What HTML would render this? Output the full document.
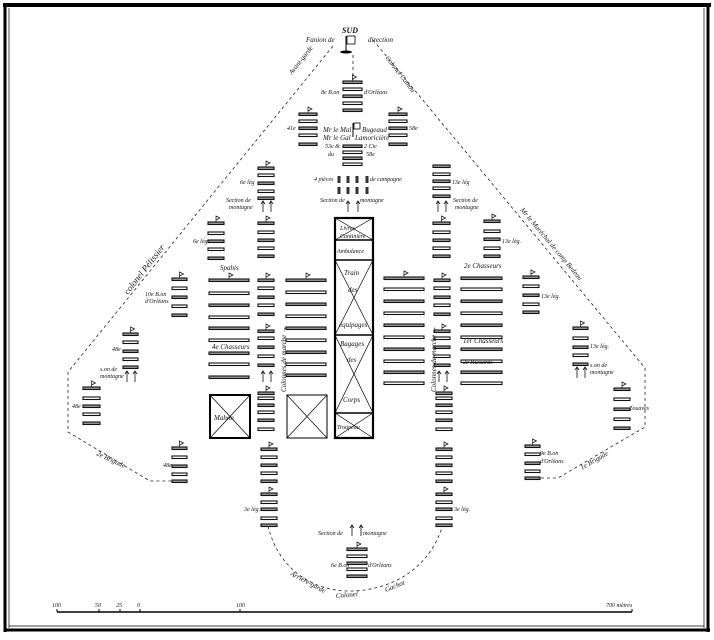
<!DOCTYPE html>
<html><head><meta charset="utf-8"><style>
html,body{margin:0;padding:0;background:#fff;width:714px;height:640px;overflow:hidden}
svg{display:block}
text{font-family:"Liberation Serif",serif;font-style:italic;fill:#111}
</style></head><body>
<svg id="s" width="714" height="640" viewBox="0 0 714 640" xmlns="http://www.w3.org/2000/svg">
<rect x="0" y="0" width="714" height="640" fill="#fff"/>
<line x1="3" y1="5" x2="711" y2="5" stroke="#000" stroke-width="4"/>
<line x1="5" y1="4" x2="5" y2="632" stroke="#000" stroke-width="3"/>
<line x1="9" y1="8" x2="9" y2="628" stroke="#000" stroke-width="0.7"/>
<line x1="708" y1="4" x2="708" y2="632" stroke="#000" stroke-width="3"/>
<line x1="704" y1="8" x2="704" y2="628" stroke="#000" stroke-width="0.7"/>
<line x1="4" y1="630" x2="710" y2="630" stroke="#000" stroke-width="3"/>
<line x1="9" y1="626" x2="704" y2="626" stroke="#000" stroke-width="0.7"/>

<g fill="none" stroke="#222" stroke-width="0.8" stroke-dasharray="3,3">
<polyline points="333,46 68,372 68,432 150,481 176,481"/>
<polyline points="373,40 645,368 645,427 558,478 527,478"/>
<path d="M268,526 C280,575 320,592 352,591 C390,590 430,570 443,524"/>
<line x1="353" y1="55" x2="353" y2="80"/>
</g>

<line x1="346" y1="36" x2="346" y2="52" stroke="#000" stroke-width="1"/>
<rect x="347" y="36" width="8" height="8" fill="none" stroke="#000" stroke-width="0.8"/>
<ellipse cx="346" cy="52" rx="6" ry="1.5" fill="#000"/>
<line x1="353" y1="123" x2="353" y2="137" stroke="#000"/>
<rect x="354" y="123" width="6" height="6" fill="none" stroke="#000" stroke-width="0.8"/>

<g id="bars"></g>

<g fill="none" stroke="#000">
<rect x="335" y="218" width="38" height="220" stroke-width="2.2"/>
<line x1="335" y1="240" x2="373" y2="240" stroke-width="1.5"/>
<line x1="335" y1="260" x2="373" y2="260" stroke-width="1.5"/>
<line x1="335" y1="335" x2="373" y2="335" stroke-width="1.5"/>
<line x1="335" y1="413" x2="373" y2="413" stroke-width="1.5"/>
<g stroke-width="0.7">
<path d="M335,218 L373,240 M373,218 L335,240"/>
<path d="M335,260 L373,335 M373,260 L335,335"/>
<path d="M335,335 L373,413 M373,335 L335,413"/>
<path d="M335,413 L373,438 M373,413 L335,438"/>
</g>
<rect x="210" y="395" width="40" height="43" stroke-width="2"/>
<path d="M210,395 L250,438 M250,395 L210,438" stroke-width="0.7"/>
<rect x="287" y="395" width="40" height="43" stroke-width="1"/>
<path d="M287,395 L327,438 M327,395 L287,438" stroke-width="0.7"/>
</g>

<g stroke="#000">
<line x1="57" y1="612" x2="632" y2="612" stroke-width="1.5"/>
<line x1="57" y1="609" x2="57" y2="612"/><line x1="99" y1="609" x2="99" y2="612"/>
<line x1="120" y1="609" x2="120" y2="612"/><line x1="140" y1="609" x2="140" y2="612"/>
<line x1="240" y1="609" x2="240" y2="612"/><line x1="632" y1="609" x2="632" y2="612"/>
</g>
<g font-size="6">
<text x="52" y="607">100</text><text x="95" y="607">50</text><text x="116" y="607">25</text><text x="137" y="607">0</text>
<text x="236" y="607">100</text><text x="606" y="607">700 mètres</text>
</g>

<g font-size="7">
<text x="342" y="33" font-weight="bold" font-style="normal" font-size="8">SUD</text>
<text x="306" y="42">Fanion de</text>
<text x="368" y="42">direction</text>
<text x="321" y="94" font-size="6">8e B.on</text>
<text x="364" y="94" font-size="6">d'Orléans</text>
<text x="287" y="130" font-size="6">41e</text>
<text x="409" y="130" font-size="6">58e</text>
<text x="323" y="132">Mr le Mal</text>
<text x="362" y="132">Bugeaud</text>
<text x="323" y="140">Mr le Gal</text>
<text x="355" y="140">Lamoricière</text>
<text x="325" y="148" font-size="6">53e &amp;</text>
<text x="364" y="148" font-size="6">2 Cie</text>
<text x="328" y="156" font-size="6">du</text>
<text x="366" y="156" font-size="6">58e</text>
<text x="314" y="181" font-size="6">4 pièces</text>
<text x="370" y="181" font-size="6">de campagne</text>
<text x="320" y="202" font-size="6">Section de</text>
<text x="360" y="202" font-size="6">montagne</text>
<text x="240" y="184" font-size="6">6e lég</text>
<text x="452" y="184" font-size="6">13e lég</text>
<text x="226" y="202" font-size="6">Section de</text>
<text x="229" y="209" font-size="6">montagne</text>
<text x="453" y="202" font-size="6">Section de</text>
<text x="455" y="209" font-size="6">montagne</text>
<text x="193" y="243" font-size="6">6e lég.</text>
<text x="502" y="243" font-size="6">13e lég.</text>
<text x="220" y="270">Spahis</text>
<text x="464" y="268">2e Chasseurs</text>
<text x="145" y="296" font-size="6">10e B.on</text>
<text x="145" y="303" font-size="6">d'Orléans</text>
<text x="541" y="298" font-size="6">13e lég.</text>
<text x="212" y="349">4e Chasseurs</text>
<text x="463" y="343">1er Chasseurs</text>
<text x="463" y="364" font-size="6">2e Hussards</text>
<text x="112" y="351" font-size="6">48e</text>
<text x="100" y="371" font-size="6">s.on de</text>
<text x="100" y="378" font-size="6">montagne</text>
<text x="590" y="348" font-size="6">13e lég.</text>
<text x="590" y="367" font-size="6">s.on de</text>
<text x="590" y="374" font-size="6">montagne</text>
<text x="72" y="408" font-size="6">48e</text>
<text x="629" y="410" font-size="6">Zouaves</text>
<text x="214" y="420" font-size="7">Mahon</text>
<text x="163" y="467" font-size="6">48e</text>
<text x="540" y="455" font-size="6">9e B.on</text>
<text x="540" y="463" font-size="6">d'Orléans</text>
<text x="244" y="511" font-size="6">3e lég.</text>
<text x="454" y="511" font-size="6">3e lég.</text>
<text x="318" y="535" font-size="6">Section de</text>
<text x="363" y="535" font-size="6">montagne</text>
<text x="331" y="567" font-size="6">6e B.on</text>
<text x="368" y="567" font-size="6">d'Orléans</text>
<text x="340" y="230" font-size="6">Livres</text>
<text x="340" y="238" font-size="6">Cantinière</text>
<text x="337" y="253" font-size="6">Ambulance</text>
<text x="344" y="275">Train</text>
<text x="348" y="292">des</text>
<text x="339" y="327">équipages</text>
<text x="340" y="346">Bagages</text>
<text x="347" y="362">des</text>
<text x="343" y="402">Corps</text>
<text x="337" y="429" font-size="6">Troupeau</text>
<text transform="translate(292,75) rotate(-52)" font-size="7">Avant-garde</text>
<text transform="translate(385,58) rotate(52)" font-size="7">Colonel Camou</text>
<text transform="translate(128,295) rotate(-52)" font-size="9">colonel Pélissier</text>
<text transform="translate(520,210) rotate(50)" font-size="7">Mr le Maréchal de camp Bedeau</text>
<text transform="translate(96,455) rotate(25)" font-size="7">2e Brigade</text>
<text transform="translate(582,470) rotate(-30)" font-size="7">1e Brigade</text>
<text transform="translate(286,392) rotate(-90)" font-size="7">Colonnes de marche →</text>
<text transform="translate(436,392) rotate(-90)" font-size="7">Colonnes de marche →</text>
<text transform="translate(290,575) rotate(28)" font-size="7">Arrière-garde</text>
<text transform="translate(336,598) rotate(-5)" font-size="7">Colonel</text>
<text transform="translate(386,592) rotate(-22)" font-size="7">Gachot</text>
</g>
</svg>
<script>
var g=document.getElementById('bars'),NS='http://www.w3.org/2000/svg';
function bar(x,y,w,gr){var r=document.createElementNS(NS,'rect');r.setAttribute('x',x);r.setAttribute('y',y);r.setAttribute('width',w);r.setAttribute('height',2.5);r.setAttribute('fill',gr?'#999':'#fff');r.setAttribute('stroke','#111');r.setAttribute('stroke-width','1.1');g.appendChild(r);}
function col(x,w,ys,flag){ys.forEach(function(y,i){bar(x,y,w,i%2==0);});if(flag){var p=document.createElementNS(NS,'path');var fx=x+w/2,fy=ys[0];p.setAttribute('d','M'+fx+','+fy+' l0,-6 l4,2 l-4,2');p.setAttribute('fill','none');p.setAttribute('stroke','#111');p.setAttribute('stroke-width','0.7');g.appendChild(p);}}
function arrows(xs,y){xs.forEach(function(x){var p=document.createElementNS(NS,'path');p.setAttribute('d','M'+x+','+(y+12)+' l0,-10 M'+(x-2)+','+(y+4)+' l2,-3 l2,3');p.setAttribute('stroke','#111');p.setAttribute('fill','none');p.setAttribute('stroke-width','0.8');g.appendChild(p);});}
col(343,19,[81,88,95,102,109],1);
col(299,18,[113,120,127,134,143],1);col(389,18,[113,120,127,134,143],1);
col(343,19,[145,151,157,163],0);
col(258,16,[167,174,182,190,197],1);arrows([263,271],200);
col(433,17,[165,173,180,187,195],0);arrows([438,446],200);
col(258,16,[222,231,239,247,255],1);col(433,17,[222,231,239,247,255],1);
col(208,16,[222,232,240,248,257],1);col(484,16,[220,230,238,247,255],1);
col(209,40,[279,292,304,316,327,339,352,363,376],1);
col(286,40,[279,291,303,315,327,339,351,363,374],1);
col(384,40,[277,288,300,312,324,336,348,360,371,382],1);
col(461,41,[277,288,300,312,324,336,348,360,371,382],0);
col(258,16,[279,287,296,304,313],1);col(258,16,[330,337,346,355,364],1);arrows([263,271],370);
col(434,16,[279,287,296,304,313],1);col(434,16,[330,337,346,355,364],1);arrows([439,447],370);
col(258,16,[392,397,404,411,419,428],1);col(436,16,[392,397,404,411,419,428],1);
col(261,16,[448,456,464,472,480],1);col(261,16,[493,501,508,517,524],1);
col(436,16,[448,456,464,472,480],1);col(436,16,[493,501,508,517,524],1);
col(172,15,[278,287,296,305,314],1);
col(123,15,[333,341,350,358,366],1);arrows([127,135],370);
col(83,17,[387,397,405,413,422],1);
col(172,15,[447,456,465,473,480],1);
col(523,16,[276,285,294,303,311],1);
col(573,15,[327,337,346,354,363],1);arrows([577,585],366);
col(614,16,[388,398,408,418,427],1);
col(525,15,[445,453,462,470,477],1);
col(347,20,[548,555,562,568,575],1);arrows([352,361],524);
[339,348,357,367].forEach(function(x){[176,187].forEach(function(y){var r=document.createElementNS(NS,'rect');r.setAttribute('x',x-1.5);r.setAttribute('y',y);r.setAttribute('width',3);r.setAttribute('height',7);r.setAttribute('fill','#333');g.appendChild(r);});});
arrows([348,358],200);
</script>
</body></html>
